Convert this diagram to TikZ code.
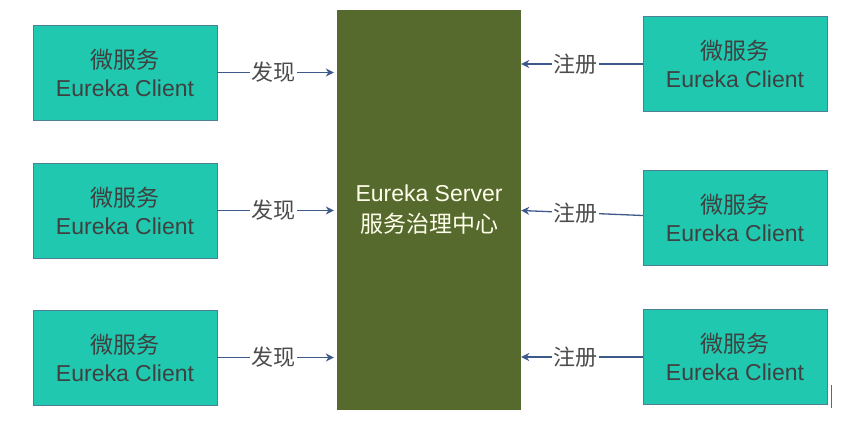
\documentclass[tikz,border=0pt]{standalone}
\usepackage{fontspec}
\setmainfont{Liberation Sans}
\newfontfamily\cjk{Noto Sans CJK SC}
\usetikzlibrary{positioning,arrows.meta}
\definecolor{clientfill}{HTML}{1FC8AF}
\definecolor{clientdraw}{HTML}{4F7F96}
\definecolor{serverfill}{HTML}{566A2E}
\definecolor{linkcolor}{HTML}{3D5A8A}
\tikzset{
    client/.style = {
        draw = clientdraw,
        fill = clientfill,
        text = black!75,
        minimum width = 184pt,
        minimum height = 95pt,
        align = center,
        font = \fontsize{23}{28}\selectfont
    },
    server/.style = {
        fill = serverfill,
        text = white!92!yellow,
        minimum width = 184pt,
        minimum height = 400pt,
        align = center,
        font = \fontsize{23}{31}\selectfont
    },
    link/.style = {
        draw = linkcolor,
        line width = 1.3pt,
        -{Stealth[length=8pt,width=8pt]}
    },
    tag/.style = {
        fill = white,
        text = black!70,
        inner sep = 1.5pt,
        font = \fontsize{22}{26}\selectfont\cjk
    }
}
\begin{document}
\begin{tikzpicture}[x=1pt, y=1pt]
        \useasboundingbox (0,0) rectangle (856,424);

        \node[server] (srv) at (429,214) {Eureka Server\\{\cjk 服务治理中心}};

        \node[client] (l1) at (125,351.5) {{\cjk 微服务}\\Eureka Client};
        \node[client] (l2) at (125,213.5) {{\cjk 微服务}\\Eureka Client};
        \node[client] (l3) at (125,66.5) {{\cjk 微服务}\\Eureka Client};

        \node[client] (r1) at (735,360) {{\cjk 微服务}\\Eureka Client};
        \node[client] (r2) at (735,206.5) {{\cjk 微服务}\\Eureka Client};
        \node[client] (r3) at (735,67) {{\cjk 微服务}\\Eureka Client};

        \draw[link] (l1.east) -- ([xshift=-3pt]srv.west |- l1.east) node [tag, pos=0.48] {发现};
        \draw[link] (l2.east) -- ([xshift=-3pt]srv.west |- l2.east) node [tag, pos=0.48] {发现};
        \draw[link] (l3.east) -- ([xshift=-3pt]srv.west |- l3.east) node [tag, pos=0.48] {发现};

        \draw[link] (r1.west) -- (srv.east |- r1.west) node [tag, pos=0.55] {注册};
        \draw[link] ([yshift=2pt]r2.west) -- (srv.east |- l2.east) node [tag, pos=0.55] {注册};
        \draw[link] (r3.west) -- (srv.east |- r3.west) node [tag, pos=0.55] {注册};

        % stray mark at the lower right
        \draw[black!60, line width=1pt] (831,16) -- (831,39);

    \end{tikzpicture}
\end{document}
